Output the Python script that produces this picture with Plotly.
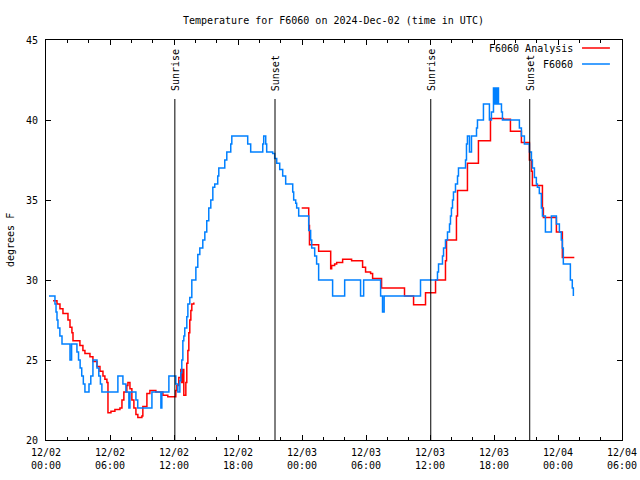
import plotly.graph_objects as go

# ---------------- data (hours since 2024-12-02 00:00 UTC) ----------------
obs_hours = [0.28, 0.84, 0.94, 1.03, 1.12, 1.30, 1.50, 2.25, 2.40, 2.72, 2.90, 3.05,
             3.20, 3.35, 3.50, 3.65, 4.03, 4.20, 4.40, 4.78, 4.95, 5.10, 5.24, 6.74,
             7.21, 7.49, 7.77, 7.87, 8.43, 8.60, 9.93, 10.77, 10.86, 11.52, 12.17,
             12.36, 12.55, 12.64, 12.73, 12.83, 12.92, 13.01, 13.20, 13.30, 13.48,
             13.67, 14.05, 14.23, 14.42, 14.70, 14.89, 15.07, 15.26, 15.45, 15.64,
             15.82, 16.10, 16.20, 16.76, 16.95, 17.32, 17.42, 18.91, 19.19, 20.32,
             20.41, 20.60, 20.69, 21.25, 21.44, 21.63, 21.91, 22.19, 22.47, 23.13,
             23.22, 23.41, 23.50, 23.69, 24.63, 24.81, 24.91, 25.19, 25.37, 25.56,
             26.87, 28.00, 29.49, 29.78, 31.37, 31.55, 31.70, 35.11, 36.70, 36.80,
             37.17, 37.27, 37.45, 37.64, 37.83, 37.92, 38.01, 38.11, 38.20, 38.39,
             38.58, 38.67, 39.33, 39.42, 39.51, 39.70, 39.89, 40.36, 40.45, 41.01,
             41.57, 41.76, 41.95, 42.04, 42.13, 42.23, 42.32, 42.42, 42.70, 42.79,
             44.38, 44.57, 44.85, 45.32, 45.51, 45.60, 45.79, 45.97, 46.07, 46.25,
             46.44, 46.54, 46.82, 47.38, 47.85, 48.13, 48.31, 48.41, 48.50, 49.16,
             49.34, 49.44]
obs_temp = [29.0, 28.5, 28.0, 27.5, 27.0, 26.5, 26.0, 25.0, 26.0, 26.0, 25.5, 25.0,
            24.5, 24.0, 23.5, 23.0, 23.5, 24.0, 25.0, 24.5, 24.0, 23.5, 23.0, 24.0,
            23.5, 23.0, 22.0, 23.0, 22.5, 22.0, 23.0, 22.0, 23.0, 24.0, 23.5,
            23.0, 23.7, 24.2, 25.0, 26.2, 26.5, 27.0, 27.7, 28.5, 28.9,
            30.0, 30.8, 31.6, 32.0, 32.5, 33.0, 33.7, 34.5, 35.0, 35.8,
            36.0, 36.5, 37.0, 37.5, 38.0, 38.5, 39.0, 38.5, 38.0, 38.5,
            39.0, 38.5, 38.0, 37.9, 37.6, 37.3, 36.9, 36.5, 36.0, 35.5,
            35.0, 34.8, 34.5, 34.0, 33.1, 32.5, 32.0, 31.5, 31.0, 30.0,
            29.0, 30.0, 29.0, 30.0, 29.0, 28.0, 29.0, 30.0, 30.5, 31.0,
            31.5, 32.0, 32.5, 33.0, 33.5, 34.0, 34.5, 35.0, 35.5, 36.0,
            36.5, 37.0, 37.5, 38.5, 39.0, 38.0, 39.0, 39.5, 40.0, 41.0,
            40.0, 40.5, 42.0, 41.0, 42.0, 41.0, 42.0, 41.0, 40.5, 40.0,
            39.5, 39.0, 38.5, 38.0, 37.5, 37.0, 36.4, 36.0, 35.8, 35.4,
            34.5, 34.0, 33.0, 34.0, 33.5, 33.0, 32.5, 32.0, 31.0, 30.0,
            29.5, 29.0]

ana_hours = [0.66, 1.03, 1.31, 1.59, 2.06, 2.25, 2.43, 2.53, 3.18, 3.46, 3.65, 4.12,
             4.40, 4.78, 5.06, 5.34, 5.52, 5.71, 5.81, 6.09, 6.46, 6.93, 7.12, 7.30,
             7.58, 7.68, 7.87, 8.05, 8.24, 8.43, 8.61, 8.99, 9.08, 9.46, 9.74, 10.30,
             10.96, 11.42, 12.17, 12.27, 12.45, 12.64, 12.73, 12.83, 12.92, 13.11,
             13.20, 13.30, 13.39, 13.48, 13.58, 13.67, 13.86, None,
             23.97, 24.63, 24.70, 25.56, 26.69, 26.78, 27.06, 27.25, 27.81, 28.65,
             29.68, 29.96, 30.43, 30.62, 31.46, 33.61, 34.46, 35.58, 36.52, 37.45,
             37.55, 38.48, 38.58, 39.51, 40.54, 41.67, 42.88, 43.54, 44.57, 45.32,
             45.51, 45.60, 46.54, 46.63, 47.85, 48.41, 49.53]
ana_temp = [28.7, 28.5, 28.2, 27.9, 27.5, 27.05, 26.7, 26.2, 25.9, 25.6, 25.4, 25.2,
            24.9, 24.6, 24.3, 24.0, 23.8, 23.6, 21.7, 21.8, 21.9, 22.0, 22.5, 23.0,
            23.4, 23.6, 23.2, 22.5, 22.0, 21.6, 21.4, 21.5, 22.1, 22.9, 23.1, 23.0,
            22.8, 22.7, 23.1, 23.4, 23.9, 24.4, 23.6, 24.4, 22.8, 23.6,
            24.8, 25.6, 26.7, 27.5, 28.1, 28.5, 28.6, None,
            34.5, 33.4, 32.2, 31.8, 30.7, 30.9, 31.0, 31.1, 31.3, 31.2,
            30.8, 30.5, 30.4, 30.1, 29.5, 29.0, 28.45, 29.2, 30.0, 31.2,
            32.5, 34.0, 35.6, 37.3, 38.7, 40.1, 40.05, 39.3, 38.6, 37.5,
            36.8, 35.9, 34.5, 33.9, 33.0, 31.4, 31.4]

sun_hours = [12.08, 21.47, 36.07, 45.35]
sun_labels = ["Sunrise", "Sunset", "Sunrise", "Sunset"]

tick_hours = [0, 6, 12, 18, 24, 30, 36, 42, 48, 54]
tick_labels = ["12/02<br>00:00", "12/02<br>06:00", "12/02<br>12:00", "12/02<br>18:00",
               "12/03<br>00:00", "12/03<br>06:00", "12/03<br>12:00", "12/03<br>18:00",
               "12/04<br>00:00", "12/04<br>06:00"]

RED = "#ff0000"
BLUE = "#0080ff"
FONT = dict(family="DejaVu Sans Mono", size=10, color="black")

fig = go.Figure()
fig.add_trace(go.Scatter(x=ana_hours, y=ana_temp, mode="lines", name="F6060 Analysis",
                         line=dict(color=RED, width=1.5, shape="hv"), connectgaps=False))
fig.add_trace(go.Scatter(x=obs_hours, y=obs_temp, mode="lines", name="F6060",
                         line=dict(color=BLUE, width=1.5, shape="hv")))

shapes = []
annotations = []
for h, lab in zip(sun_hours, sun_labels):
    shapes.append(dict(type="line", xref="x", yref="paper", x0=h, x1=h, y0=0, y1=0.8525,
                       line=dict(color="black", width=1)))
    annotations.append(dict(x=h, y=0.867, xref="x", yref="paper", text=lab, showarrow=False,
                            textangle=-90, xanchor="center", yanchor="bottom", font=FONT))

# gnuplot-style legend (text followed by sample line)
legend_items = [("F6060 Analysis", RED, 0.98), ("F6060", BLUE, 0.94)]
for txt, col, yy in legend_items:
    annotations.append(dict(x=0.918, y=yy, xref="paper", yref="paper", text=txt,
                            showarrow=False, xanchor="right", yanchor="middle", font=FONT))
    shapes.append(dict(type="line", xref="paper", yref="paper", x0=0.9306, x1=0.979,
                       y0=yy, y1=yy, line=dict(color=col, width=1.5)))

annotations.append(dict(x=-0.0625, y=0.5, xref="paper", yref="paper", text="degrees F",
                        showarrow=False, textangle=-90, xanchor="center", yanchor="middle",
                        font=FONT))

fig.update_layout(
    width=640, height=480,
    margin=dict(l=46, r=18, t=40, b=40, autoexpand=False),
    paper_bgcolor="white", plot_bgcolor="white",
    showlegend=False,
    title=dict(text="Temperature for F6060 on 2024-Dec-02 (time in UTC)", x=0.521, xanchor="center",
               y=0.958, yanchor="middle", yref="container", font=FONT, automargin=False),
    font=FONT,
    shapes=shapes,
    annotations=annotations,
    xaxis=dict(range=[0, 54], tickvals=tick_hours, ticktext=tick_labels, automargin=False,
               ticks="inside", ticklen=5, tickcolor="black", showline=True, linecolor="black",
               linewidth=1, mirror="ticks", showgrid=False, zeroline=False,
               ticklabelstandoff=3,
               minor=dict(dtick=2, tick0=0, ticks="inside", ticklen=3, tickcolor="black",
                          showgrid=False),
               tickfont=FONT, fixedrange=True),
    yaxis=dict(range=[20, 45], tickvals=[20, 25, 30, 35, 40, 45], ticks="inside", ticklen=5,
               automargin=False, ticklabelstandoff=5,
               tickcolor="black", showline=True, linecolor="black", linewidth=1,
               mirror="ticks", showgrid=False, zeroline=False, tickfont=FONT, fixedrange=True),
)

fig.write_html("out.html", config={"displayModeBar": False},
               post_script="document.body.style.margin='0';document.body.style.padding='0';")
